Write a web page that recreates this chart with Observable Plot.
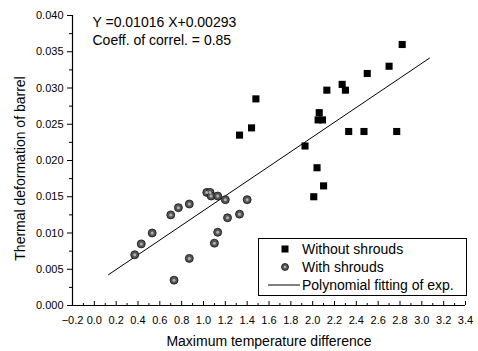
<!DOCTYPE html>
<html><head><meta charset="utf-8">
<script src="https://cdn.jsdelivr.net/npm/d3@7"></script>
<script src="https://cdn.jsdelivr.net/npm/@observablehq/plot@0.6"></script>
<style>
html,body{margin:0;padding:0;background:#fff;}
#chart{position:relative;width:478px;height:351px;font-family:"Liberation Sans",Arial,sans-serif;}
#legend{position:absolute;left:258px;top:238px;width:207px;height:56px;border:1px solid #000;background:#fff;font-size:14px;color:#000;}
#legend .row{position:absolute;left:0;height:18px;line-height:18px;white-space:nowrap;}
#legend svg{position:absolute;left:0;top:0;}
#legend span{position:absolute;left:43px;}
</style></head><body><div id="chart"></div>
<script>
// Without shrouds (squares)
const withoutX = [1.33, 1.44, 1.48, 1.93, 2.01, 2.04, 2.10, 2.06, 2.05, 2.09, 2.13, 2.27, 2.30, 2.33, 2.47, 2.50, 2.70, 2.77, 2.82];
const withoutY = [0.0235, 0.0245, 0.0285, 0.0220, 0.0150, 0.0190, 0.0165, 0.0266, 0.0256, 0.0256, 0.0297, 0.0305, 0.0297, 0.0240, 0.0240, 0.0320, 0.0330, 0.0240, 0.0360];
// With shrouds (circles)
const withX = [0.37, 0.43, 0.53, 0.70, 0.73, 0.77, 0.87, 0.87, 1.03, 1.06, 1.07, 1.10, 1.13, 1.13, 1.20, 1.22, 1.33, 1.40];
const withY = [0.0070, 0.0085, 0.0100, 0.0125, 0.0035, 0.0135, 0.0140, 0.0065, 0.0156, 0.0156, 0.0151, 0.0086, 0.0101, 0.0151, 0.0146, 0.0121, 0.0126, 0.0146];
// Polynomial fit line end points
const fitX = [0.13, 3.07];
const fitY = [0.00425, 0.03412];
// Axis ticks
const xTicks = [-0.2, 0.0, 0.2, 0.4, 0.6, 0.8, 1.0, 1.2, 1.4, 1.6, 1.8, 2.0, 2.2, 2.4, 2.6, 2.8, 3.0, 3.2, 3.4];
const xMinor = [-0.1, 0.1, 0.3, 0.5, 0.7, 0.9, 1.1, 1.3, 1.5, 1.7, 1.9, 2.1, 2.3, 2.5, 2.7, 2.9, 3.1, 3.3];
const yTicks = [0.000, 0.005, 0.010, 0.015, 0.020, 0.025, 0.030, 0.035, 0.040];
const yMinor = [0.0025, 0.0075, 0.0125, 0.0175, 0.0225, 0.0275, 0.0325, 0.0375];
const xTitle = "Maximum temperature difference";
const yTitle = "Thermal deformation of barrel";
const annotation = ["Y =0.01016 X+0.00293", "Coeff. of correl. = 0.85"];
const legendLabels = ["Without shrouds", "With shrouds", "Polynomial fitting of exp."];

const sq = withoutX.map((x, i) => ({x, y: withoutY[i]}));
const ci = withX.map((x, i) => ({x, y: withY[i]}));
const fit = fitX.map((x, i) => ({x, y: fitY[i]}));

const W = 478, H = 351, mT = 15, mB = 46, mL = 72, mR = 13;
const innerH = H - mT - mB;

const plot = Plot.plot({
  width: W, height: H,
  marginLeft: mL, marginRight: mR, marginTop: mT, marginBottom: mB,
  style: {fontFamily: '"Liberation Sans", Arial, sans-serif', fontSize: "11px", color: "#000", background: "#fff", overflow: "visible"},
  x: {domain: [-0.2, 3.4]},
  y: {domain: [0, 0.04]},
  marks: [
    Plot.axisX({ticks: xTicks, tickSize: 0, tickPadding: 11, tickFormat: d3.format(".1f"), label: null, fontSize: 11}),
    Plot.tickX(xTicks, {x: d => d, insetTop: innerH - 4, stroke: "#000"}),
    Plot.tickX(xMinor, {x: d => d, insetTop: innerH - 2, stroke: "#000"}),
    Plot.axisY({ticks: yTicks, tickSize: 5, tickPadding: 4, tickFormat: d3.format(".3f"), label: null, fontSize: 11}),
    Plot.axisY({ticks: yMinor, tickSize: 3, tickFormat: () => "", label: null}),
    Plot.ruleX([-0.2], {stroke: "#000", strokeWidth: 1.2}),
    Plot.ruleY([0], {stroke: "#000", strokeWidth: 1.2}),
    Plot.line(fit, {x: "x", y: "y", stroke: "#000", strokeWidth: 1}),
    Plot.dot(ci, {x: "x", y: "y", r: 4, fill: "#555", stroke: "#111", strokeWidth: 0.8}),
    Plot.dot(ci, {x: "x", y: "y", r: 1.5, fill: "#b0b0b0", stroke: "none"}),
    Plot.dot(sq, {x: "x", y: "y", symbol: "square", r: 4, fill: "#000", stroke: "none"}),
    Plot.text([annotation[0]], {frameAnchor: "top-left", text: d => d, dx: 20, dy: 7, fontSize: 14, textAnchor: "start", lineAnchor: "middle"}),
    Plot.text([annotation[1]], {frameAnchor: "top-left", text: d => d, dx: 20, dy: 25, fontSize: 14, textAnchor: "start", lineAnchor: "middle"}),
    Plot.text([xTitle], {frameAnchor: "bottom", text: d => d, dy: 36, fontSize: 14, lineAnchor: "middle"}),
    Plot.text([yTitle], {frameAnchor: "left", text: d => d, dx: -52, dy: 8, rotate: -90, fontSize: 14, textAnchor: "middle", lineAnchor: "middle"})
  ]
});
document.getElementById("chart").appendChild(plot);

// legend
const leg = document.createElement("div");
leg.id = "legend";
const rows = [
  {cy: 10, sym: '<rect x="22.5" y="-3.5" width="7" height="7" fill="#000"/>'},
  {cy: 28, sym: '<circle cx="26" cy="0" r="3.5" fill="#555" stroke="#111" stroke-width="0.8"/><circle cx="26" cy="0" r="1.3" fill="#b0b0b0"/>'},
  {cy: 46, sym: '<line x1="9" x2="41" y1="0" y2="0" stroke="#000" stroke-width="1"/>'}
];
rows.forEach((r, i) => {
  const row = document.createElement("div");
  row.className = "row";
  row.style.top = (r.cy - 9) + "px";
  row.style.width = "207px";
  row.innerHTML = `<svg width="45" height="18"><g transform="translate(0,9)">${r.sym}</g></svg><span>${legendLabels[i]}</span>`;
  leg.appendChild(row);
});
document.getElementById("chart").appendChild(leg);
</script>
</body></html>
